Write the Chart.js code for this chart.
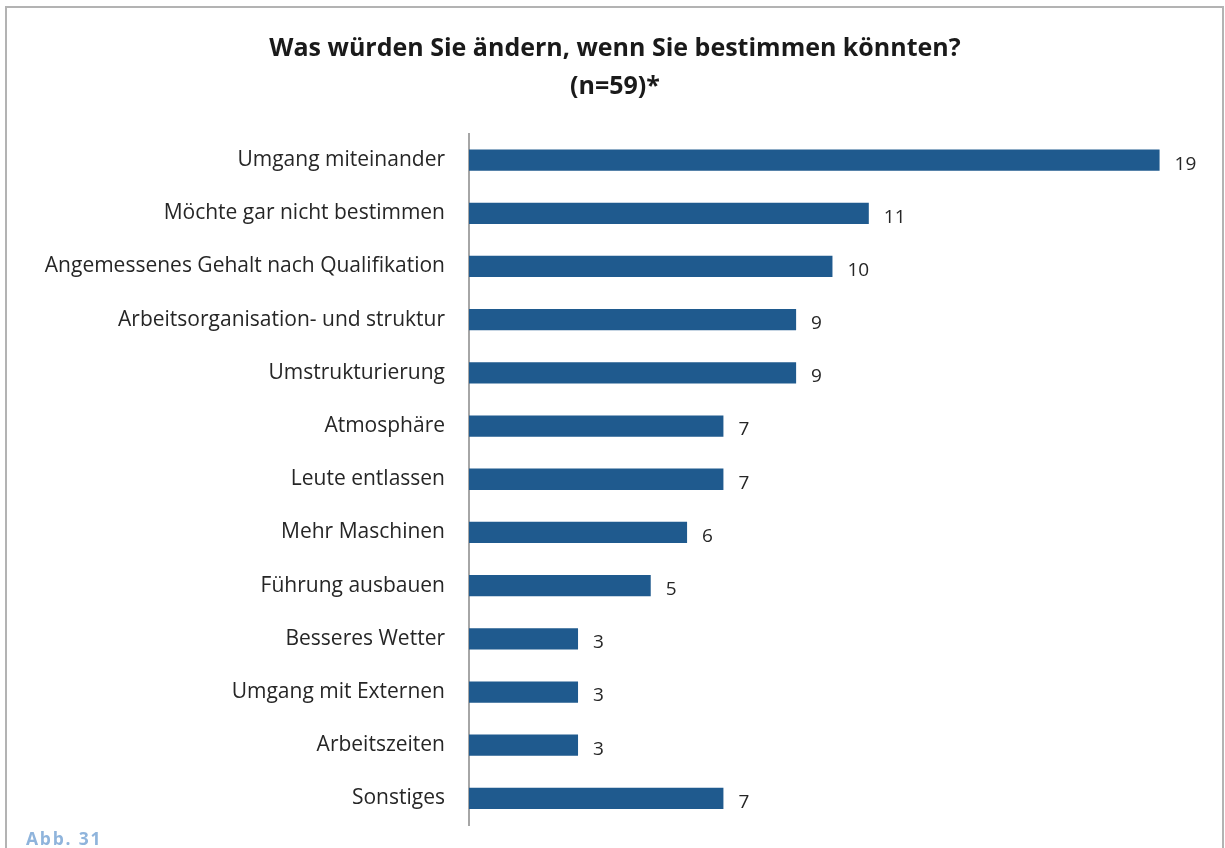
<!DOCTYPE html>
<html>
<head>
<meta charset="utf-8">
<script src="https://cdn.jsdelivr.net/npm/chart.js@4"></script>
<style>
  html, body { margin: 0; padding: 0; background: #fff; }
  #wrap { position: relative; width: 1225px; height: 848px; overflow: hidden; }
  #frame { position: absolute; left: 5px; top: 6px; width: 1219px; height: 900px; border: 2px solid #b3b3b3; box-sizing: border-box; }
  #abb { position: absolute; left: 26px; top: 826px; font-family: "Open Sans", sans-serif; font-weight: bold; font-size: 17.5px; letter-spacing: 1.8px; color: #8fb4dc; }
  canvas { position: absolute; left: 0; top: 0; }
</style>
</head>
<body>
<div id="wrap">
  <div id="frame"></div>
  <canvas id="c" width="1225" height="848"></canvas>
  <div id="abb">Abb. 31</div>
</div>
<script>
const titleLines = ["Was würden Sie ändern, wenn Sie bestimmen könnten?", "(n=59)*"];
const categories = [
  "Umgang miteinander",
  "Möchte gar nicht bestimmen",
  "Angemessenes Gehalt nach Qualifikation",
  "Arbeitsorganisation- und struktur",
  "Umstrukturierung",
  "Atmosphäre",
  "Leute entlassen",
  "Mehr Maschinen",
  "Führung ausbauen",
  "Besseres Wetter",
  "Umgang mit Externen",
  "Arbeitszeiten",
  "Sonstiges"
];
const counts = [19, 11, 10, 9, 9, 7, 7, 6, 5, 3, 3, 3, 7];

const valueLabels = {
  id: 'valueLabels',
  afterDatasetsDraw(chart) {
    const ctx = chart.ctx;
    const meta = chart.getDatasetMeta(0);
    ctx.save();
    ctx.font = '19px "Open Sans", sans-serif';
    ctx.fillStyle = '#262626';
    ctx.textAlign = 'left';
    ctx.textBaseline = 'middle';
    meta.data.forEach((bar, i) => {
      ctx.fillText(String(counts[i]), bar.x + 15, bar.y + 4);
    });
    ctx.restore();
  }
};

new Chart(document.getElementById('c'), {
  type: 'bar',
  data: {
    labels: categories,
    datasets: [{
      data: counts,
      backgroundColor: '#1f5a8e',
      categoryPercentage: 1,
      barPercentage: 0.4
    }]
  },
  options: {
    indexAxis: 'y',
    responsive: false,
    animation: false,
    layout: { padding: { top: 9, bottom: 23, right: 0, left: 5 } },
    plugins: {
      legend: { display: false },
      tooltip: { enabled: false },
      title: {
        display: true,
        text: titleLines,
        color: '#1a1a1a',
        font: { family: '"Open Sans", sans-serif', size: 25, weight: 'bold', lineHeight: 1.55 },
        padding: { top: 20, bottom: 27 }
      }
    },
    scales: {
      x: {
        display: false,
        min: 0,
        max: 20.8
      },
      y: {
        afterFit(scale) {
          scale.width = 464;
          scale.paddingTop = 0;
          scale.paddingBottom = 0;
        },
        grid: { display: false, drawTicks: false },
        border: { display: true, color: '#a6a6a6', width: 2 },
        ticks: {
          padding: 24,
          color: '#262626',
          font: { family: '"Open Sans", sans-serif', size: 21 }
        }
      }
    }
  },
  plugins: [valueLabels]
});
</script>
</body>
</html>
